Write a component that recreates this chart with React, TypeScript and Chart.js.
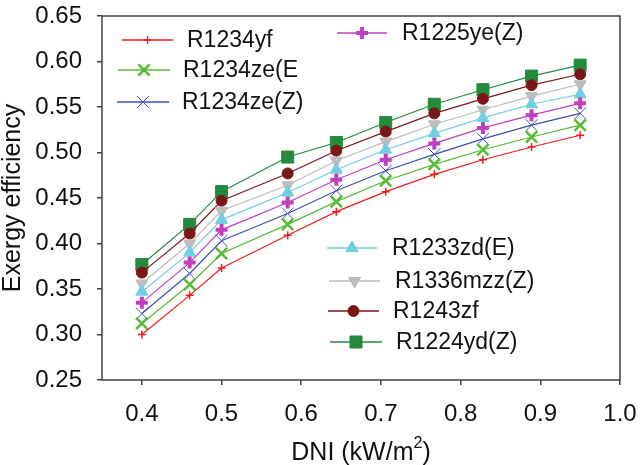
import { useEffect, useRef } from "react";
import { Chart, registerables } from "chart.js";
import { drawPoint } from "chart.js/helpers";

Chart.register(...registerables);

// DNI values (kW/m2)
const dni = [0.4, 0.46, 0.5, 0.583, 0.644, 0.706, 0.767, 0.828, 0.889, 0.95];

const r1234yf = [0.3, 0.343, 0.373, 0.409, 0.435, 0.457, 0.476, 0.492, 0.506, 0.519];
const r1234zeE = [0.312, 0.355, 0.389, 0.421, 0.446, 0.469, 0.487, 0.503, 0.517, 0.53];
const r1234zeZ = [0.323, 0.367, 0.403, 0.433, 0.458, 0.48, 0.498, 0.515, 0.53, 0.543];
const r1225yeZ = [0.335, 0.379, 0.415, 0.445, 0.47, 0.492, 0.51, 0.527, 0.541, 0.554];
const r1233zdE = [0.347, 0.39, 0.426, 0.456, 0.481, 0.503, 0.521, 0.538, 0.553, 0.564];
const r1336mzzZ = [0.356, 0.4, 0.436, 0.464, 0.491, 0.512, 0.531, 0.547, 0.562, 0.575];
const r1243zf = [0.368, 0.411, 0.447, 0.477, 0.502, 0.523, 0.543, 0.559, 0.574, 0.586];
const r1224ydZ = [0.377, 0.421, 0.457, 0.495, 0.511, 0.533, 0.553, 0.569, 0.584, 0.596];

const xTicks = [0.4, 0.5, 0.6, 0.7, 0.8, 0.9, 1.0];
const yTicks = [0.25, 0.3, 0.35, 0.4, 0.45, 0.5, 0.55, 0.6, 0.65];

const FONT = "'Liberation Sans', Arial, sans-serif";

const series = [
  { label: "R1234yf", data: r1234yf, color: "#f01c1c", style: "cross", radius: 4, bw: 1.5, rot: 0 },
  { label: "R1234ze(E", data: r1234zeE, color: "#55bb33", style: "crossRot", radius: 8, bw: 2.5, rot: 0 },
  { label: "R1234ze(Z)", data: r1234zeZ, color: "#3f4fb0", style: "crossRot", radius: 8.5, bw: 1, rot: 0 },
  { label: "R1225ye(Z)", data: r1225yeZ, color: "#bf3fbf", style: "cross", radius: 6, bw: 4, rot: 0 },
  { label: "R1233zd(E)", data: r1233zdE, color: "#6fcfdf", style: "triangle", radius: 7, bw: 1, rot: 0 },
  { label: "R1336mzz(Z)", data: r1336mzzZ, color: "#bdbdbd", style: "triangle", radius: 7, bw: 1, rot: 180 },
  { label: "R1243zf", data: r1243zf, color: "#7b1618", style: "circle", radius: 5.5, bw: 1, rot: 0 },
  { label: "R1224yd(Z)", data: r1224ydZ, color: "#238a3e", style: "rect", radius: 8.5, bw: 1, rot: 0 },
];

// legend entry anchors: [lineStart, lineEnd, y, textX]
const legendPos: [number, number, number, number][] = [
  [122, 173, 40, 187],
  [118, 170, 70, 183],
  [117, 169, 102, 182],
  [337, 387, 33, 402],
  [327, 377, 248, 392],
  [329, 380, 281, 395],
  [328, 379, 311, 393],
  [330, 382, 342, 396],
];

const overlay = {
  id: "overlay",
  afterDraw(chart: any) {
    const { ctx, chartArea } = chart;
    const { left, right, top, bottom } = chartArea;
    ctx.save();
    // frame
    ctx.strokeStyle = "#404040";
    ctx.lineWidth = 1.5;
    ctx.strokeRect(left, top, right - left, bottom - top);

    // legend
    ctx.font = `23px ${FONT}`;
    ctx.textBaseline = "middle";
    ctx.textAlign = "left";
    series.forEach((s, i) => {
      const [x0, x1, y, tx] = legendPos[i];
      ctx.strokeStyle = s.color;
      ctx.fillStyle = s.color;
      ctx.lineWidth = 1.3;
      ctx.beginPath();
      ctx.moveTo(x0, y);
      ctx.lineTo(x1, y);
      ctx.stroke();
      ctx.lineWidth = s.bw;
      drawPoint(ctx, { pointStyle: s.style, rotation: s.rot, radius: s.radius, borderWidth: s.bw }, (x0 + x1) / 2, y);
      ctx.fillStyle = "#111";
      ctx.fillText(s.label, tx, y + 1);
    });

    // x title with superscript
    ctx.fillStyle = "#111";
    const big = `25px ${FONT}`;
    const small = `16px ${FONT}`;
    const a = "DNI (kW/m";
    const b = "2";
    const c = ")";
    ctx.font = big;
    const wa = ctx.measureText(a).width;
    const wc = ctx.measureText(c).width;
    ctx.font = small;
    const wb = ctx.measureText(b).width;
    let x = (left + right) / 2 - (wa + wb + wc) / 2;
    const ty = 453;
    ctx.textAlign = "left";
    ctx.textBaseline = "middle";
    ctx.font = big;
    ctx.fillText(a, x, ty);
    x += wa;
    ctx.font = small;
    ctx.fillText(b, x, ty - 9);
    x += wb;
    ctx.font = big;
    ctx.fillText(c, x, ty);

    // y title
    ctx.translate(20, (top + bottom) / 2);
    ctx.rotate(-Math.PI / 2);
    ctx.textAlign = "center";
    ctx.textBaseline = "alphabetic";
    ctx.font = big;
    ctx.fillText("Exergy efficiency", 0, 0);
    ctx.restore();
  },
};

const App = () => {
  const chartRef = useRef<HTMLCanvasElement>(null);
  const chartInstance = useRef<Chart | null>(null);

  useEffect(() => {
    document.body.style.margin = "0";
    if (!chartRef.current) return;
    if (chartInstance.current) chartInstance.current.destroy();

    chartInstance.current = new Chart(chartRef.current, {
      type: "line",
      data: {
        datasets: series.map((s) => ({
          label: s.label,
          data: s.data.map((v, i) => ({ x: dni[i], y: v })),
          borderColor: s.color,
          backgroundColor: s.color,
          borderWidth: 1.2,
          pointStyle: s.style as any,
          pointRadius: s.radius,
          pointBorderWidth: s.bw,
          pointRotation: s.rot,
          pointBackgroundColor: s.color,
          pointBorderColor: s.color,
          tension: 0,
          fill: false,
        })),
      },
      options: {
        animation: false,
        responsive: true,
        maintainAspectRatio: false,
        layout: { padding: { top: 16, right: 20, left: 0, bottom: 0 } },
        plugins: {
          legend: { display: false },
          tooltip: { enabled: false },
        },
        scales: {
          x: {
            type: "linear",
            min: 0.35,
            max: 1.0,
            afterBuildTicks: (scale: any) => {
              scale.ticks = xTicks.map((v) => ({ value: v }));
            },
            afterFit: (scale: any) => {
              scale.height = 85;
              scale.paddingLeft = 0;
              scale.paddingRight = 0;
            },
            border: { display: false },
            grid: { drawOnChartArea: false, tickLength: 5, tickColor: "#404040", lineWidth: 1.5 },
            ticks: {
              padding: 15,
              color: "#111",
              font: { family: FONT, size: 24 },
              callback: (v: any) => Number(v).toFixed(1),
            },
          },
          y: {
            type: "linear",
            min: 0.25,
            max: 0.65,
            afterBuildTicks: (scale: any) => {
              scale.ticks = yTicks.map((v) => ({ value: v }));
            },
            afterFit: (scale: any) => {
              scale.width = 102;
              scale.paddingTop = 0;
              scale.paddingBottom = 0;
            },
            border: { display: false },
            grid: { drawOnChartArea: false, tickLength: 5, tickColor: "#404040", lineWidth: 1.5 },
            ticks: {
              padding: 15,
              color: "#111",
              font: { family: FONT, size: 24 },
              callback: (v: any) => Number(v).toFixed(2),
            },
          },
        },
      },
      plugins: [overlay],
    });

    return () => {
      if (chartInstance.current) {
        chartInstance.current.destroy();
        chartInstance.current = null;
      }
    };
  }, []);

  return (
    <div style={{ width: 640, height: 465, position: "relative", background: "#fff" }}>
      <canvas ref={chartRef} />
    </div>
  );
};

export default App;
